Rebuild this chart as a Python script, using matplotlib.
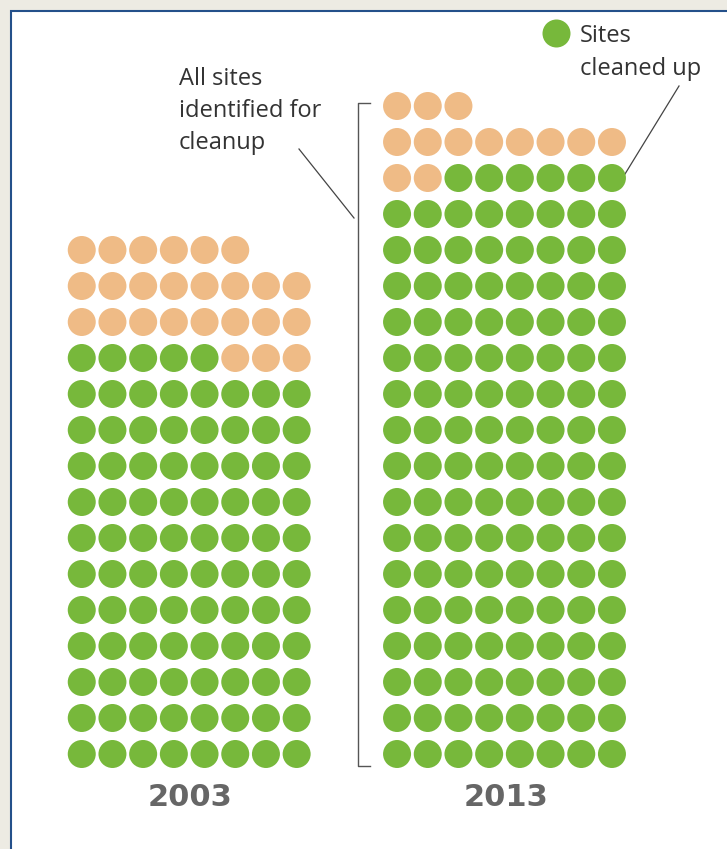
import matplotlib
matplotlib.use("Agg")
import matplotlib.pyplot as plt
from matplotlib.patches import Rectangle

# data: one dot per site
years = ['2003', '2013']
total_sites = [118, 147]     # all sites identified for cleanup
cleaned_sites = [93, 134]    # sites cleaned up
partial_green_side = ['left', 'right']  # which side the green dots sit in the mixed row

green = '#77b83b'
orange = '#efbb86'
n_cols = 8
dx = 30.7   # px between dot centres across
dy = 36.0   # px between rows
group_centre = [189.2, 504.5]
bottom_row_y = 754.0

fig = plt.figure(figsize=(7.27, 8.49), dpi=100, facecolor='#edebe3')
ax = fig.add_axes([0, 0, 1, 1])
ax.set_xlim(0, 727)
ax.set_ylim(849, 0)
ax.axis('off')

# white panel with the blue frame (only top/left edges are inside the picture)
ax.add_patch(Rectangle((11, 11), 900, 900, facecolor='white',
                       edgecolor='#24508a', lw=1.5, clip_on=False, zorder=0))

dot_s = (28 * 72 / 100) ** 2

for k in range(len(years)):
    total = total_sites[k]
    done = cleaned_sites[k]
    x0 = group_centre[k] - dx * (n_cols - 1) / 2
    xs, ys, cs = [], [], []
    full_green_rows = done // n_cols
    extra_green = done % n_cols
    for i in range(total):
        row = i // n_cols
        col = i % n_cols
        if row < full_green_rows:
            c = green
        elif row == full_green_rows:
            if partial_green_side[k] == 'left':
                c = green if col < extra_green else orange
            else:
                c = green if col >= n_cols - extra_green else orange
        else:
            c = orange
        xs.append(x0 + col * dx)
        ys.append(bottom_row_y - row * dy)
        cs.append(c)
    ax.scatter(xs, ys, s=dot_s, c=cs, linewidths=0, zorder=3)
    ax.text(group_centre[k] + 1, 806, years[k], ha='center', va='baseline',
            fontsize=22, fontweight='bold', color='#666666', family='DejaVu Sans')

# bracket beside the 2013 column
ax.plot([370, 357.5, 357.5, 370], [103, 103, 766, 766], color='#555555', lw=1.0, zorder=2)

# annotation texts
label_font = dict(fontsize=17, color='#333333', family='Open Sans', va='baseline')
for j, line in enumerate(['All sites', 'identified for', 'cleanup']):
    ax.text(179, 85 + j * 32, line, ha='left', **label_font)
ax.plot([299, 354], [149, 218], color='#444444', lw=0.9)

# legend for the green dots
ax.scatter([556], [33], s=dot_s, c=green, linewidths=0, zorder=3)
ax.text(580, 42, 'Sites', ha='left', **label_font)
ax.text(580, 75, 'cleaned up', ha='left', **label_font)
ax.plot([679, 625], [86, 174], color='#444444', lw=0.9)

fig.savefig('out.png', dpi=100, facecolor=fig.get_facecolor())
